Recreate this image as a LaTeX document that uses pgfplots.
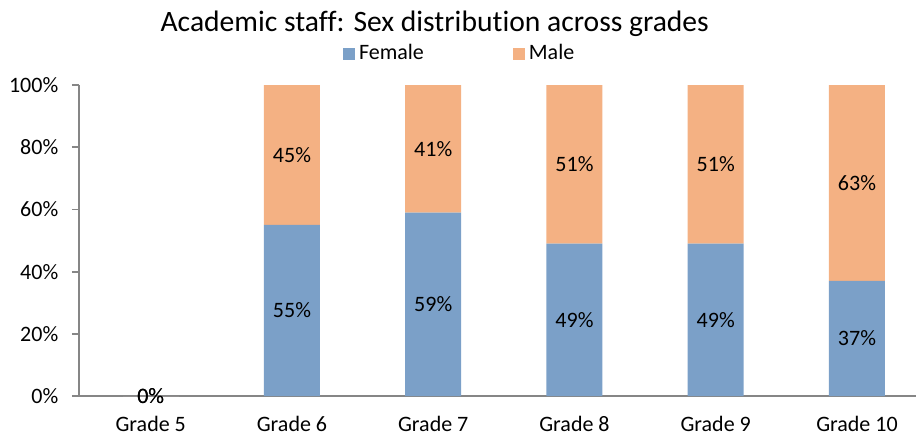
\documentclass[border=0pt]{standalone}
\usepackage{fontspec}
\setmainfont{Carlito}[Ligatures=NoCommon]
\usepackage{pgfplots}
\usepackage{pgfplotstable}
\pgfplotsset{compat=1.18}
\definecolor{femaleblue}{HTML}{7BA0C8}
\definecolor{maleorange}{HTML}{F4B183}
\definecolor{axisgray}{HTML}{868686}

% share of each sex per grade (percent)
\pgfplotstableread{
x female male
0 0 0
1 55 45
2 59 41
3 49 51
4 49 51
5 37 63
}\staffdata

\begin{document}
\fontsize{11}{13}\selectfont
\begin{tikzpicture}
\begin{axis}[
	at={(0,0)}, anchor=south west,
	width=418.5pt, height=155.5pt, scale only axis,
	ybar stacked, bar width=28pt,
	stacked ignores zero=false,
	xmin=-0.508, xmax=5.418, ymin=0, ymax=100,
	clip=false,
	axis lines*=left,
	axis line style={axisgray, line width=0.9pt, -},
	xtick={0,1,2,3,4,5},
	xticklabels={Grade 5, Grade 6, Grade 7, Grade 8, Grade 9, Grade 10},
	xtick style={draw=none},
	xticklabel style={yshift=-2.5pt},
	ytick={0,20,40,60,80,100},
	yticklabels={0\%,20\%,40\%,60\%,80\%,100\%},
	tick align=outside, major tick length=3.5pt,
	ytick style={axisgray, line width=0.9pt},
	yticklabel style={xshift=-3pt},
	title={Academic staff: Sex distribution across grades},
	title style={at={(0.425,1.196)}, anchor=center, yshift=-6pt, font=\fontsize{14.8}{18}\selectfont},
	legend style={at={(0.456,1.1)}, anchor=center, draw=none, fill=none,
		legend columns=2,
		/tikz/every even column/.append style={column sep=42.5pt}},
	legend image code/.code={\fill[#1] (0pt,-3pt) rectangle (6pt,3pt);},
	point meta=explicit,
	nodes near coords={\pgfmathprintnumber[assume math mode=true]{\pgfplotspointmeta}\%},
	every node near coord/.append style={anchor=center, text=black},
]
\addplot[fill=femaleblue, draw=none]
	table[x=x, y=female, meta=female] {\staffdata};
\addplot[fill=maleorange, draw=none]
	table[x=x, y=male, meta=male] {\staffdata};
\legend{Female, Male}
\end{axis}
\pgfresetboundingbox
\path (-39.5pt,-19.5pt) rectangle (418.5pt,198pt);
\end{tikzpicture}
\end{document}
